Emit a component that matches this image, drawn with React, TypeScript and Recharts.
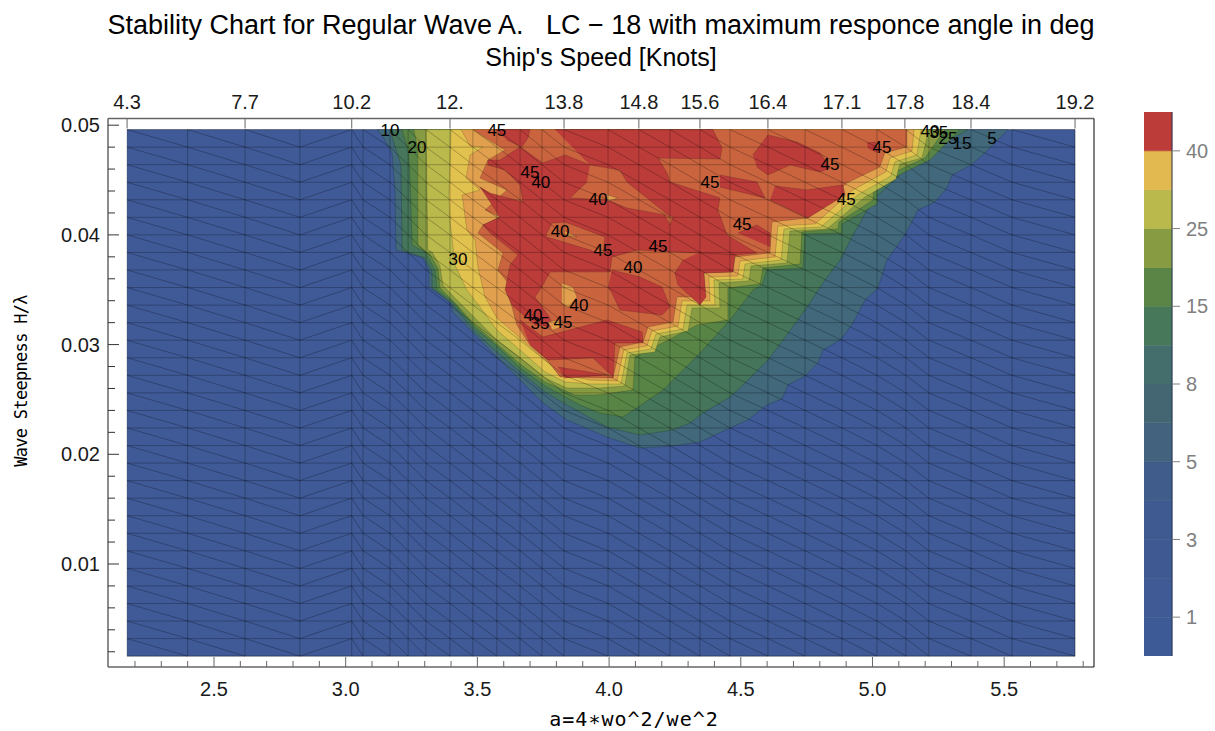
import React from "react";
import { BarChart, Bar, ComposedChart, Scatter, XAxis, YAxis } from "recharts";

type Pair = [number, number];

// mesh of the contour plot
const meshA = [2.17, 2.4, 2.618, 2.826, 3.023, 3.066, 3.168, 3.237, 3.305, 3.396, 3.483, 3.574, 3.662, 3.745, 3.829, 3.996, 4.113, 4.231, 4.345, 4.459, 4.603, 4.744, 4.884, 5.017, 5.127, 5.214, 5.374, 5.53, 5.769];
const meshH = [0.0016, 0.0032, 0.0048, 0.0064, 0.008, 0.0096, 0.0112, 0.0128, 0.0144, 0.016, 0.0176, 0.0192, 0.0208, 0.0224, 0.024, 0.0256, 0.0272, 0.0288, 0.0304, 0.032, 0.0336, 0.0352, 0.0368, 0.0384, 0.04, 0.0416, 0.0432, 0.0448, 0.0464, 0.048, 0.0496];
const risingColumn = 3;

// contour bands, lower edge of each level
const baseEdge: Pair[] = [[2.17, 0.0016], [5.769, 0.0016], [5.769, 0.0496], [2.17, 0.0496]];
const tealEdge: Pair[] = [[3.119, 0.0496], [3.142, 0.04893], [3.176, 0.04747], [3.187, 0.0441], [3.191, 0.03862], [3.293, 0.0379], [3.316, 0.0368], [3.316, 0.03525], [3.396, 0.03388], [3.407, 0.03297], [3.491, 0.03088], [3.574, 0.02887], [3.662, 0.02677], [3.749, 0.02468], [3.84, 0.02313], [3.992, 0.02158], [4.117, 0.02057], [4.243, 0.02076], [4.345, 0.02112], [4.459, 0.0224], [4.527, 0.02313], [4.599, 0.02449], [4.656, 0.02504], [4.679, 0.02632], [4.744, 0.02714], [4.793, 0.02832], [4.812, 0.02951], [4.877, 0.03042], [4.922, 0.03179], [4.972, 0.03407], [5.021, 0.03516], [5.055, 0.03771], [5.123, 0.03999], [5.173, 0.04227], [5.237, 0.043], [5.283, 0.04428], [5.302, 0.04546], [5.374, 0.04637], [5.427, 0.04747], [5.514, 0.0496]];
const darkGreenEdge: Pair[] = [[3.168, 0.0496], [3.191, 0.04774], [3.21, 0.04637], [3.214, 0.03862], [3.301, 0.0379], [3.328, 0.03662], [3.328, 0.03516], [3.404, 0.0337], [3.491, 0.03115], [3.574, 0.02933], [3.662, 0.0275], [3.757, 0.02568], [3.84, 0.02449], [3.992, 0.02249], [4.117, 0.02176], [4.243, 0.02222], [4.307, 0.02285], [4.356, 0.02377], [4.459, 0.02522], [4.508, 0.02632], [4.603, 0.0286], [4.675, 0.03088], [4.744, 0.03315], [4.812, 0.03562], [4.877, 0.03771], [4.926, 0.03999], [5.002, 0.04318], [5.116, 0.04574], [5.218, 0.04774], [5.294, 0.04865], [5.363, 0.0496]];
const greenEdge: Pair[] = [[3.214, 0.0496], [3.237, 0.04774], [3.244, 0.04546], [3.252, 0.03908], [3.301, 0.03844], [3.339, 0.0368], [3.347, 0.03498], [3.407, 0.03388], [3.491, 0.03151], [3.574, 0.02987], [3.662, 0.02787], [3.757, 0.02623], [3.89, 0.02449], [3.965, 0.02377], [4.053, 0.0234], [4.205, 0.02586], [4.345, 0.02924], [4.459, 0.03224], [4.546, 0.03498], [4.58, 0.03543], [4.599, 0.0368], [4.736, 0.03698], [4.744, 0.04008], [4.884, 0.04017], [4.884, 0.041], [5.017, 0.04282], [5.017, 0.04428], [5.123, 0.04574], [5.218, 0.04683], [5.332, 0.0496]];
const oliveEdge: Pair[] = [[3.259, 0.0496], [3.274, 0.04774], [3.274, 0.03908], [3.32, 0.03817], [3.35, 0.03698], [3.358, 0.03516], [3.415, 0.03379], [3.491, 0.03179], [3.574, 0.03006], [3.662, 0.02823], [3.757, 0.02659], [3.871, 0.02541], [3.954, 0.02541], [4.091, 0.02586], [4.098, 0.02887], [4.224, 0.03042], [4.334, 0.03179], [4.451, 0.03224], [4.451, 0.03516], [4.573, 0.03553], [4.584, 0.03698], [4.725, 0.03735], [4.732, 0.04027], [4.869, 0.04054], [4.873, 0.04118], [5.002, 0.04318], [5.006, 0.04464], [5.116, 0.0461], [5.199, 0.04701], [5.275, 0.0496]];
const limeEdge: Pair[] = [[3.305, 0.0496], [3.312, 0.03862], [3.328, 0.03844], [3.358, 0.03717], [3.369, 0.03543], [3.415, 0.03425], [3.491, 0.03243], [3.574, 0.03042], [3.662, 0.02878], [3.757, 0.02696], [3.84, 0.02604], [3.965, 0.02604], [4.06, 0.02623], [4.079, 0.02905], [4.174, 0.02933], [4.193, 0.03069], [4.3, 0.03124], [4.315, 0.03334], [4.421, 0.03334], [4.417, 0.03562], [4.531, 0.0358], [4.539, 0.03717], [4.675, 0.03744], [4.687, 0.04036], [4.827, 0.04054], [4.972, 0.04346], [5.089, 0.0451], [5.104, 0.04646], [5.188, 0.04701], [5.214, 0.0496]];
const yellowEdge: Pair[] = [[3.4, 0.0496], [3.392, 0.04337], [3.396, 0.04136], [3.415, 0.03726], [3.46, 0.03498], [3.51, 0.03343], [3.574, 0.03133], [3.662, 0.02951], [3.757, 0.0275], [3.833, 0.02659], [3.927, 0.02641], [4.045, 0.02641], [4.068, 0.02924], [4.159, 0.0296], [4.178, 0.03097], [4.281, 0.03142], [4.296, 0.03361], [4.402, 0.03361], [4.398, 0.03589], [4.508, 0.03598], [4.516, 0.03735], [4.653, 0.03771], [4.664, 0.04054], [4.804, 0.04072], [4.949, 0.04373], [5.07, 0.04537], [5.085, 0.04665], [5.169, 0.04729], [5.184, 0.0496]];
const orangeEdge: Pair[] = [[3.438, 0.0496], [3.472, 0.04811], [3.521, 0.04802], [3.472, 0.04729], [3.457, 0.04519], [3.51, 0.0441], [3.442, 0.04364], [3.46, 0.04045], [3.491, 0.03954], [3.502, 0.03708], [3.529, 0.03434], [3.574, 0.03243], [3.662, 0.0306], [3.757, 0.0286], [3.833, 0.02723], [3.927, 0.02677], [4.03, 0.02668], [4.056, 0.02951], [4.144, 0.02987], [4.163, 0.03124], [4.262, 0.0317], [4.277, 0.03398], [4.383, 0.03398], [4.379, 0.03616], [4.489, 0.03625], [4.497, 0.03762], [4.63, 0.03799], [4.641, 0.04081], [4.782, 0.041], [4.926, 0.0441], [5.051, 0.04574], [5.066, 0.04701], [5.15, 0.04765], [5.158, 0.0496]];
const rustEdge: Pair[] = [[3.483, 0.0496], [3.574, 0.0482], [3.605, 0.04774], [3.54, 0.04683], [3.51, 0.04519], [3.612, 0.0441], [3.529, 0.04227], [3.586, 0.04163], [3.521, 0.0409], [3.502, 0.04017], [3.597, 0.03835], [3.578, 0.0368], [3.616, 0.03562], [3.624, 0.03407], [3.65, 0.03179], [3.7, 0.02996], [3.764, 0.0286], [3.814, 0.02705], [4.015, 0.02696], [4.041, 0.02978], [4.129, 0.03024], [4.148, 0.03161], [4.243, 0.03206], [4.258, 0.03434], [4.364, 0.03434], [4.36, 0.03653], [4.47, 0.03662], [4.478, 0.03799], [4.611, 0.03835], [4.618, 0.04118], [4.755, 0.04154], [4.903, 0.04473], [5.028, 0.04619], [5.047, 0.04747], [5.131, 0.04802], [5.131, 0.0496]];

// red islands and the pockets on top of them
const redMain: Pair[] = [[3.795, 0.0496], [4.394, 0.0496], [4.429, 0.04792], [4.421, 0.04692], [4.186, 0.04701], [4.22, 0.04564], [4.231, 0.04482], [4.421, 0.04337], [4.413, 0.04227], [4.448, 0.03999], [4.561, 0.03835], [4.478, 0.03817], [4.338, 0.03835], [4.106, 0.03862], [4.068, 0.03835], [4.011, 0.03799], [4.003, 0.03662], [3.776, 0.03662], [3.749, 0.03543], [3.719, 0.03434], [3.776, 0.03243], [3.787, 0.03161], [3.719, 0.03179], [3.631, 0.03361], [3.605, 0.03498], [3.624, 0.03726], [3.654, 0.03817], [3.548, 0.04017], [3.521, 0.0409], [3.586, 0.04163], [3.51, 0.04437], [3.548, 0.04382], [3.673, 0.043], [3.662, 0.04455], [3.605, 0.04592], [3.54, 0.04637], [3.54, 0.04683], [3.586, 0.04683], [3.662, 0.04802], [3.749, 0.04656], [3.833, 0.04729], [3.927, 0.04637]];
const redTopLeft: Pair[] = [[3.567, 0.0496], [3.7, 0.0496], [3.692, 0.04884], [3.669, 0.04802], [3.612, 0.04865]];
const redRight: Pair[] = [[4.338, 0.03835], [4.478, 0.03817], [4.47, 0.03662], [4.36, 0.03653], [4.368, 0.03434], [4.345, 0.03361], [4.262, 0.03543], [4.25, 0.03653], [4.281, 0.03772]];
const redCentre: Pair[] = [[4.011, 0.0368], [4.117, 0.03616], [4.201, 0.03525], [4.231, 0.03343], [4.201, 0.0327], [4.041, 0.03315], [4.011, 0.0347], [3.996, 0.03525]];
const redLower: Pair[] = [[3.662, 0.03224], [3.749, 0.03069], [3.992, 0.03224], [4.125, 0.03115], [4.129, 0.03015], [4.022, 0.03015], [4.015, 0.02705], [3.939, 0.02878], [3.768, 0.0286], [3.7, 0.02996]];
const redFoot: Pair[] = [[3.806, 0.02796], [3.992, 0.02723], [3.89, 0.02705], [3.833, 0.02696]];
const redUpper1: Pair[] = [[4.546, 0.04729], [4.603, 0.04911], [4.713, 0.04847], [4.801, 0.04747], [4.839, 0.0461], [4.801, 0.04574], [4.687, 0.04637], [4.603, 0.04546], [4.561, 0.04619]];
const redUpper2: Pair[] = [[4.421, 0.04546], [4.561, 0.04482], [4.592, 0.04337], [4.421, 0.04437]];
const redUpper3: Pair[] = [[4.63, 0.04446], [4.751, 0.0441], [4.888, 0.04455], [4.896, 0.04364], [4.755, 0.04154], [4.611, 0.04318]];
const redUpper4: Pair[] = [[4.489, 0.04017], [4.561, 0.0409], [4.611, 0.04017], [4.611, 0.0389]];
const redUpper5: Pair[] = [[4.979, 0.04838], [5.01, 0.04847], [5.021, 0.04747], [4.983, 0.04792]];
const rustPocket1: Pair[] = [[3.927, 0.04637], [4.041, 0.04592], [4.068, 0.04482], [4.224, 0.04182], [4.243, 0.04163], [4.231, 0.0409], [4.212, 0.04182], [4.068, 0.04245], [3.992, 0.04318], [3.852, 0.04337], [3.916, 0.04482]];
const rustPocket2: Pair[] = [[3.764, 0.04017], [3.783, 0.04108], [3.833, 0.04118], [3.984, 0.03981], [3.977, 0.03817], [3.927, 0.03862], [3.764, 0.03981]];
const tip1: Pair[] = [[3.992, 0.04364], [4.034, 0.04337], [3.996, 0.04309]];
const tip2: Pair[] = [[3.833, 0.04036], [3.878, 0.03981], [3.833, 0.03999]];
const tip3: Pair[] = [[3.821, 0.03562], [3.863, 0.03525], [3.878, 0.03434], [3.844, 0.03334], [3.821, 0.03379]];
const tip4: Pair[] = [[3.768, 0.03206], [3.806, 0.03224], [3.821, 0.03161], [3.787, 0.03133]];

const blue = "#3F5A97";
const red = "#BC3C3A";
const rust = "#C9643F";
const orange = "#E0A04E";
const bandEdges = [baseEdge, tealEdge, darkGreenEdge, greenEdge, oliveEdge, limeEdge, yellowEdge, orangeEdge, rustEdge];
const bandColors = [blue, "#41687B", "#45755A", "#588546", "#879C42", "#B9B94C", "#E2C24E", orange, rust];
const patchEdges = [redMain, redTopLeft, redRight, redCentre, redLower, redFoot, redUpper1, redUpper2, redUpper3, redUpper4, redUpper5, rustPocket1, rustPocket2, tip1, tip2, tip3, tip4];
const patchColors = [red, red, red, red, red, red, red, red, red, red, red, rust, rust, orange, orange, orange, orange];

// contour labels
const labelText = ["10", "20", "45", "45", "40", "40", "40", "30", "45", "45", "40", "45", "45", "45", "45", "45", "40", "40", "35", "45", "40", "35", "25", "15", "5"];
const labelA = [3.168, 3.271, 3.574, 3.7, 3.741, 3.958, 3.814, 3.426, 3.977, 4.186, 4.091, 4.383, 4.505, 4.839, 4.9, 5.036, 3.886, 3.711, 3.738, 3.825, 5.218, 5.252, 5.287, 5.34, 5.454];
const labelH = [0.04956, 0.04802, 0.04956, 0.04574, 0.04482, 0.04327, 0.04036, 0.03781, 0.03862, 0.03899, 0.03707, 0.04482, 0.041, 0.04646, 0.04327, 0.04802, 0.03361, 0.0327, 0.03197, 0.03206, 0.04947, 0.04938, 0.04884, 0.04838, 0.04884];

// axes
const bottomTicks = [2.2, 2.3, 2.4, 2.5, 2.6, 2.7, 2.8, 2.9, 3.0, 3.1, 3.2, 3.3, 3.4, 3.5, 3.6, 3.7, 3.8, 3.9, 4.0, 4.1, 4.2, 4.3, 4.4, 4.5, 4.6, 4.7, 4.8, 4.9, 5.0, 5.1, 5.2, 5.3, 5.4, 5.5, 5.6, 5.7, 5.8];
const bottomMajor = [2.5, 3.0, 3.5, 4.0, 4.5, 5.0, 5.5];
const leftTicks = [0.002, 0.004, 0.006, 0.008, 0.01, 0.012, 0.014, 0.016, 0.018, 0.02, 0.022, 0.024, 0.026, 0.028, 0.03, 0.032, 0.034, 0.036, 0.038, 0.04, 0.042, 0.044, 0.046, 0.048, 0.05];
const leftMajor = [0.01, 0.02, 0.03, 0.04, 0.05];
const topTicks = [2.17, 2.618, 3.023, 3.396, 3.829, 4.113, 4.345, 4.603, 4.884, 5.123, 5.374, 5.769];
const topLabels = ["4.3", "7.7", "10.2", "12.", "13.8", "14.8", "15.6", "16.4", "17.1", "17.8", "18.4", "19.2"];

// legend, bottom to top
const legendColors = ["#3E5A96", "#3F5A94", "#3F5A92", "#3F5A90", "#3F5C8A", "#42627E", "#436672", "#446E6C", "#48785A", "#5A8546", "#879C42", "#B9B94C", "#E2B850", "#BC3C3A"];
const legendTicks = [1, 3, 5, 7, 9, 11, 13];
const legendLabels = ["1", "3", "5", "8", "15", "25", "40"];

const sans = "'Liberation Sans', Arial, sans-serif";
const mono = "'DejaVu Sans Mono', monospace";
const axisGray = "#666666";

const toPoints = (pairs: Pair[]) => pairs.map(([a, H]) => ({ a, H }));

const buildMesh = () => {
  const pts: { a: number | null; H: number | null }[] = [];
  const gap = () => pts.push({ a: null, H: null });
  meshH.forEach((H) => {
    meshA.forEach((a) => pts.push({ a, H }));
    gap();
  });
  meshA.forEach((a) => {
    meshH.forEach((H) => pts.push({ a, H }));
    gap();
  });
  for (let r = 0; r < meshH.length - 1; r++) {
    for (let c = 0; c < meshA.length - 1; c++) {
      if (c === risingColumn) {
        pts.push({ a: meshA[c], H: meshH[r] }, { a: meshA[c + 1], H: meshH[r + 1] });
      } else {
        pts.push({ a: meshA[c], H: meshH[r + 1] }, { a: meshA[c + 1], H: meshH[r] });
      }
      gap();
    }
  }
  return pts;
};

const meshPoints = buildMesh();
const labelPoints = labelText.map((text, i) => ({ a: labelA[i], H: labelH[i], text }));
const topPoints = topTicks.map((a) => ({ a, H: 0.0496 }));
const legendRow = [legendColors.reduce((row: any, _c, i) => ({ ...row, ["b" + i]: 1 }), { name: "legend" })];

const noDot = () => <g />;

const BottomTick = ({ x, y, payload }: any) => {
  const major = bottomMajor.includes(payload.value);
  return (
    <g>
      <line x1={x} x2={x} y1={y} y2={y - (major ? 10 : 6)} stroke={axisGray} />
      {major && (
        <text x={x} y={y + 29} textAnchor="middle" fontFamily={sans} fontSize={20} fill="#1a1a1a">
          {payload.value.toFixed(1)}
        </text>
      )}
    </g>
  );
};

const LeftTick = ({ x, y, payload }: any) => {
  const major = leftMajor.includes(payload.value);
  return (
    <g>
      <line x1={x} x2={x + (major ? 11 : 7)} y1={y} y2={y} stroke="#333333" />
      {major && (
        <text x={x - 8} y={y + 7} textAnchor="end" fontFamily={sans} fontSize={20} fill="#1a1a1a">
          {payload.value.toFixed(2)}
        </text>
      )}
    </g>
  );
};

const TopTick = ({ x, y, payload, index }: any) => (
  <g>
    <line x1={x} x2={x} y1={y} y2={y + 10} stroke={axisGray} />
    <text x={x} y={y - 10} textAnchor="middle" fontFamily={sans} fontSize={20} fill="#1a1a1a">
      {topLabels[topTicks.indexOf(payload.value)] ?? topLabels[index]}
    </text>
  </g>
);

const ContourLabel = ({ cx, cy, payload }: any) => (
  <text x={cx} y={cy + 6} textAnchor="middle" fontFamily={sans} fontSize={17} fill="#000000">
    {payload.text}
  </text>
);

const textBase: React.CSSProperties = { position: "absolute", whiteSpace: "pre", color: "#000" };

const App = () => {
  return (
    <div style={{ position: "absolute", left: 0, top: 0, width: 1215, height: 731, overflow: "hidden", background: "#fff" }}>
      <div style={{ ...textBase, left: 601, top: 10, transform: "translateX(-50%)", fontFamily: sans, fontSize: 27 }}>
        Stability Chart for Regular Wave A.   LC − 18 with maximum responce angle in deg
      </div>
      <div style={{ ...textBase, left: 601, top: 43, transform: "translateX(-50%)", fontFamily: sans, fontSize: 25 }}>
        Ship's Speed [Knots]
      </div>
      <div style={{ ...textBase, left: 634, top: 707, transform: "translateX(-50%)", fontFamily: mono, fontSize: 20, letterSpacing: 1 }}>
        a=4∗wo^2/we^2
      </div>
      <div style={{ ...textBase, left: 21, top: 381, transform: "translate(-50%,-50%) rotate(-90deg)", fontFamily: mono, fontSize: 17, letterSpacing: -0.7 }}>
        Wave Steepness H/λ
      </div>

      <ComposedChart width={1215} height={731} margin={{ top: 0, right: 0, bottom: 0, left: 0 }}>
        <XAxis
          xAxisId={0}
          dataKey="a"
          type="number"
          domain={[2.0976, 5.841]}
          ticks={bottomTicks}
          interval={0}
          height={64}
          tickSize={0}
          tickMargin={0}
          tick={BottomTick}
          axisLine={{ stroke: axisGray, strokeWidth: 1.5 }}
          tickLine={false}
        />
        <XAxis
          xAxisId="top"
          dataKey="a"
          type="number"
          orientation="top"
          domain={[2.0976, 5.841]}
          ticks={topTicks}
          interval={0}
          height={118.5}
          tickSize={0}
          tickMargin={0}
          tick={TopTick}
          axisLine={{ stroke: axisGray, strokeWidth: 1.5 }}
          tickLine={false}
        />
        <YAxis
          yAxisId={0}
          dataKey="H"
          type="number"
          domain={[0.00061, 0.05061]}
          ticks={leftTicks}
          interval={0}
          width={108}
          tickSize={0}
          tickMargin={0}
          tick={LeftTick}
          axisLine={{ stroke: axisGray, strokeWidth: 1.5 }}
          tickLine={false}
        />
        <YAxis
          yAxisId="right"
          type="number"
          orientation="right"
          domain={[0.00061, 0.05061]}
          width={121}
          tick={false}
          axisLine={{ stroke: "#000" }}
          tickLine={false}
        />

        <Scatter xAxisId="top" data={topPoints} shape={noDot} isAnimationActive={false} />
        {bandEdges.map((edge, i) => (
          <Scatter
            key={"band" + i}
            data={toPoints(edge)}
            shape={noDot}
            line={{ fill: bandColors[i], stroke: "rgba(0,0,0,0.16)", strokeWidth: 1 }}
            isAnimationActive={false}
          />
        ))}
        {patchEdges.map((edge, i) => (
          <Scatter
            key={"patch" + i}
            data={toPoints(edge)}
            shape={noDot}
            line={{ fill: patchColors[i], stroke: "rgba(0,0,0,0.16)", strokeWidth: 1 }}
            isAnimationActive={false}
          />
        ))}
        <Scatter
          data={meshPoints}
          shape={noDot}
          line={{ fill: "none", stroke: "rgba(0,0,0,0.25)", strokeWidth: 1 }}
          isAnimationActive={false}
        />
        <Scatter data={labelPoints} shape={ContourLabel} isAnimationActive={false} />
      </ComposedChart>

      <div style={{ position: "absolute", left: 1144, top: 112 }}>
        <BarChart width={71} height={544} data={legendRow} margin={{ top: 0, right: 0, bottom: 0, left: 0 }} barCategoryGap={0}>
          <XAxis dataKey="name" hide />
          <YAxis
            orientation="right"
            type="number"
            domain={[0, 14]}
            ticks={legendTicks}
            interval={0}
            width={43}
            tickSize={8}
            tickMargin={6}
            tickFormatter={(v: number) => legendLabels[legendTicks.indexOf(v)]}
            tick={{ fontFamily: sans, fontSize: 20, fill: "#808080" }}
            tickLine={{ stroke: "#808080" }}
            axisLine={{ stroke: "#2b3a55" }}
          />
          {legendColors.map((color, i) => (
            <Bar key={color + i} dataKey={"b" + i} stackId="legend" fill={color} stroke={color} strokeWidth={0.6} isAnimationActive={false} />
          ))}
        </BarChart>
      </div>
    </div>
  );
};

export default App;
